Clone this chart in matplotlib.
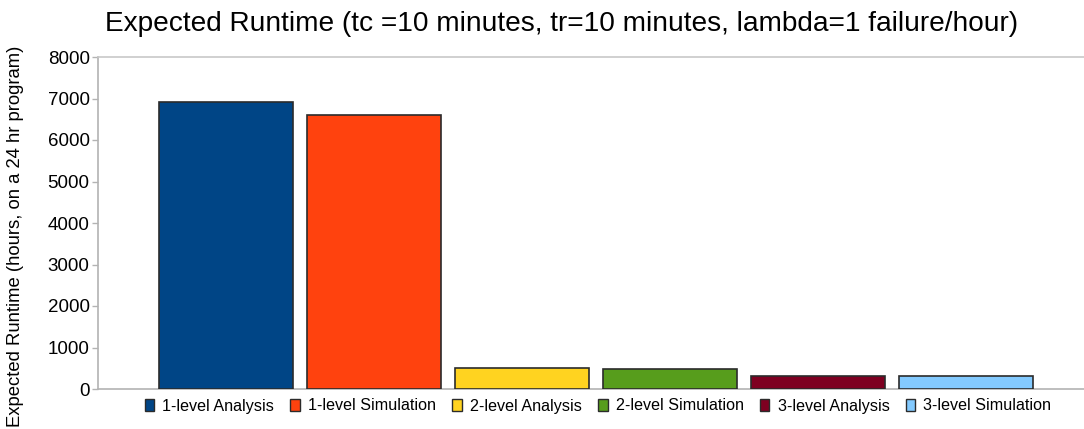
import matplotlib
matplotlib.use("Agg")
import matplotlib.pyplot as plt
from matplotlib.patches import Patch

plt.rcParams['font.family'] = ['Liberation Sans', 'DejaVu Sans']

series = ["1-level Analysis", "1-level Simulation", "2-level Analysis",
          "2-level Simulation", "3-level Analysis", "3-level Simulation"]
values = [6915, 6610, 498, 475, 312, 306]
colors = ["#004586", "#ff420e", "#ffd320", "#579d1c", "#7e0021", "#83caff"]
yticks = [0, 1000, 2000, 3000, 4000, 5000, 6000, 7000, 8000]

W, H = 1084, 429
fig = plt.figure(figsize=(W / 100, H / 100), dpi=100)
ax = fig.add_axes([98 / W, 1 - 389 / H, 1 - 98 / W, (389 - 57) / H])

x = list(range(len(series)))
ax.bar(x, values, width=134 / 148, color=colors, edgecolor="#2b2b2b",
       linewidth=1.2, zorder=3)

ax.set_xlim((98 - 226) / 148, (1084 - 226) / 148)
ax.set_ylim(0, 8000)
ax.set_yticks(yticks)
ax.set_yticklabels([str(v) for v in yticks], fontsize=13.5)
ax.set_xticks([])

for s in ["left", "bottom", "top"]:
    ax.spines[s].set_color("#b3b3b3")
    ax.spines[s].set_linewidth(1.2)
ax.spines["top"].set_color("#c8c8c8")
ax.spines["right"].set_visible(False)
ax.tick_params(axis="y", length=4, width=1, color="#b3b3b3", pad=2,
               labelcolor="#000000")

fig.text(16 / W, 1 - 236 / H, "Expected Runtime (hours, on a 24 hr program)",
         rotation=90, ha="center", va="center", fontsize=13.3)

fig.text(562 / W, 1 - 24 / H,
         "Expected Runtime (tc =10 minutes, tr=10 minutes, lambda=1 failure/hour)",
         ha="center", va="center", fontsize=20.2)

handles = [Patch(facecolor=c, edgecolor="#2b2b2b", linewidth=1.0) for c in colors]
fig.legend(handles, series, loc="center", bbox_to_anchor=(598 / W, 1 - 406 / H),
           ncol=6, frameon=False, fontsize=11.6, handlelength=0.6,
           handleheight=0.8, handletextpad=0.5, columnspacing=1.0,
           borderpad=0)

fig.savefig("out.png", dpi=100)
